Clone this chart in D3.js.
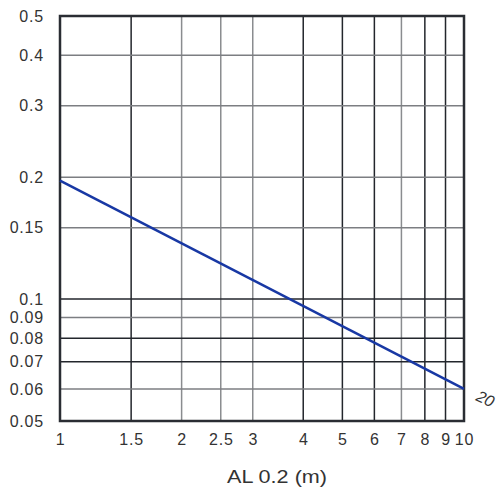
<!DOCTYPE html>
<html>
<head>
<meta charset="utf-8">
<script src="https://cdn.jsdelivr.net/npm/d3@7"></script>
<style>
  body { margin: 0; background: #fff; }
  text { font-family: Arial, "Liberation Sans", sans-serif; fill: #333; }
</style>
</head>
<body>
<div id="chart"></div>
<script>
// datos
var xTicks = [1, 1.5, 2, 2.5, 3, 4, 5, 6, 7, 8, 9, 10];
var yTicks = [0.05, 0.06, 0.07, 0.08, 0.09, 0.1, 0.15, 0.2, 0.3, 0.4, 0.5];
// gridlines drawn lighter
var grayX = [2, 2.5, 3, 7];
var grayY = [0.06, 0.09, 0.15, 0.2, 0.3, 0.4];
// curve 20
var lineX = [1, 10];
var lineY = [0.196, 0.060];
var curveLabel = "20";
var xTitle = "AL 0.2 (m)";

var width = 497, height = 488;
var margin = {top: 16, right: 33, bottom: 67, left: 60};
var w = width - margin.left - margin.right;
var h = height - margin.top - margin.bottom;

var svg = d3.select("#chart").append("svg")
  .attr("width", width)
  .attr("height", height);

var g = svg.append("g")
  .attr("transform", "translate(" + margin.left + "," + margin.top + ")");

var xScale = d3.scaleLog().domain([1, 10]).range([0, w]);
var yScale = d3.scaleLog().domain([0.05, 0.5]).range([h, 0]);

// grid
g.selectAll("line.vgrid")
  .data(xTicks.slice(1, -1))
  .join("line")
  .attr("class", "vgrid")
  .attr("x1", d => xScale(d)).attr("x2", d => xScale(d))
  .attr("y1", 0).attr("y2", h)
  .attr("stroke", d => grayX.indexOf(d) >= 0 ? "#8a8c8f" : "#23262c")
  .attr("stroke-width", 1.5);

g.selectAll("line.hgrid")
  .data(yTicks.slice(1, -1))
  .join("line")
  .attr("class", "hgrid")
  .attr("x1", 0).attr("x2", w)
  .attr("y1", d => yScale(d)).attr("y2", d => yScale(d))
  .attr("stroke", d => grayY.indexOf(d) >= 0 ? "#7c7e82" : "#23262c")
  .attr("stroke-width", 1.5);

// frame
g.append("rect")
  .attr("x", 0).attr("y", 0)
  .attr("width", w).attr("height", h)
  .attr("fill", "none")
  .attr("stroke", "#2a2d33")
  .attr("stroke-width", 2.5);

// line
var pts = lineX.map((d, i) => [d, lineY[i]]);
g.append("path")
  .datum(pts)
  .attr("fill", "none")
  .attr("stroke", "#1838a4")
  .attr("stroke-width", 2.5)
  .attr("d", d3.line().x(d => xScale(d[0])).y(d => yScale(d[1])));

// axes (labels only)
var fmt = d => String(+d.toPrecision(3));
var xAxis = g.append("g")
  .attr("transform", "translate(0," + h + ")")
  .call(d3.axisBottom(xScale).tickValues(xTicks).tickFormat(fmt).tickSize(0).tickPadding(13));
var yAxis = g.append("g")
  .call(d3.axisLeft(yScale).tickValues(yTicks).tickFormat(fmt).tickSize(0).tickPadding(16));
[xAxis, yAxis].forEach(function(a) {
  a.select(".domain").remove();
  a.selectAll("text")
    .attr("font-size", 16)
    .attr("font-family", "Arial, 'Liberation Sans', sans-serif")
    .attr("fill", "#333")
    .style("letter-spacing", "0.8px");
});

// curve label
g.append("text")
  .attr("transform", "translate(" + (xScale(10) + 11) + "," + (yScale(0.06) + 11) + ") rotate(25)")
  .attr("font-size", 16)
  .attr("font-style", "italic")
  .text(curveLabel);

// x title
g.append("text")
  .attr("transform", "translate(" + (w / 2 + 15) + "," + (h + 62) + ") scale(1.2,1)")
  .attr("text-anchor", "middle")
  .attr("font-size", 18)
  .text(xTitle);
</script>
</body>
</html>
